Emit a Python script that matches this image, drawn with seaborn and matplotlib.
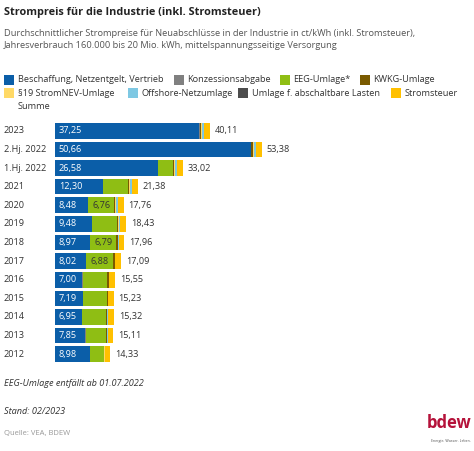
import numpy as np
import pandas as pd
import matplotlib
matplotlib.use("Agg")
import matplotlib.pyplot as plt
import seaborn as sns
from matplotlib.patches import Rectangle

# ------------------------
# Data (ct/kWh)
# ------------------------
categories = ["2023", "2.Hj. 2022", "1.Hj. 2022", "2021", "2020", "2019", "2018",
              "2017", "2016", "2015", "2014", "2013", "2012"]

beschaffung = [37.25, 50.66, 26.58, 12.30, 8.48, 9.48, 8.97, 8.02, 7.00, 7.19, 6.95, 7.85, 8.98]
konzession = [0.11] * 13
eeg = [0.0, 0.0, 3.723, 6.50, 6.76, 6.405, 6.79, 6.88, 6.354, 6.17, 6.24, 5.277, 3.592]
kwkg = [0.357, 0.378, 0.378, 0.254, 0.226, 0.28, 0.345, 0.438, 0.445, 0.20, 0.178, 0.126, 0.002]
stromnev = [0.27, 0.29, 0.29, 0.30, 0.25, 0.22, 0.17, 0.10, 0.07, 0.017, 0.05, 0.06, 0.109]
offshore = [0.591, 0.405, 0.40, 0.37, 0.394, 0.393, 0.025, 0.0, 0.034, 0.0, 0.246, 0.15, 0.0]
abschalt = [0.0, 0.0, 0.002, 0.009, 0.007, 0.005, 0.011, 0.005, 0.0, 0.006, 0.009, 0.0, 0.0]
stromsteuer = [1.537] * 13
summe = [40.11, 53.38, 33.02, 21.38, 17.76, 18.43, 17.96, 17.09, 15.55, 15.23, 15.32, 15.11, 14.33]

names = ["Beschaffung, Netzentgelt, Vertrieb", "Konzessionsabgabe", "EEG-Umlage*",
         "KWKG-Umlage", "§19 StromNEV-Umlage", "Offshore-Netzumlage",
         "Umlage f. abschaltbare Lasten", "Stromsteuer"]
series = [beschaffung, konzession, eeg, kwkg, stromnev, offshore, abschalt, stromsteuer]
colors = ["#0b5ea8", "#808080", "#8fbe14", "#7a5a00", "#ffd966", "#7ec8e3", "#4d4d4d", "#ffc000"]

df = pd.DataFrame(dict(zip(names, series)), index=categories)
cum = df.cumsum(axis=1)

# ------------------------
# Figure
# ------------------------
sns.set_theme(style="white")
plt.rcParams["font.family"] = ["Open Sans", "DejaVu Sans"]

W, H = 474, 451
fig = plt.figure(figsize=(W / 100, H / 100), dpi=100)
fig.patch.set_facecolor("white")

def fx(px):
    return px / W

def fy(py):
    return 1 - py / H

# axes: bars start at x=55 px, rows from y=121 to y=363 px
ax_left, ax_right = 55, 470
ax_top, ax_bottom = 121.5, 363.5
ax = fig.add_axes([fx(ax_left), fy(ax_bottom), fx(ax_right - ax_left), (ax_bottom - ax_top) / H])

# stacked bars: draw cumulative sums from the last to the first component
for name, col in reversed(list(zip(names, colors))):
    sns.barplot(x=cum[name].values, y=categories, color=col, orient="h",
                width=0.84, saturation=1, linewidth=0, errorbar=None, ax=ax)

px_per_unit = 3.87
ax.set_xlim(0, (ax_right - ax_left) / px_per_unit)
ax.set_ylim(len(categories) - 0.5, -0.5)
ax.axis("off")

txt = "#333333"
fs = 6.6
for i, cat in enumerate(categories):
    ax.text(-51 / px_per_unit, i, cat, ha="left", va="center", fontsize=fs, color=txt)
    ax.text(1.0, i, f"{beschaffung[i]:.2f}".replace(".", ","), ha="left", va="center",
            fontsize=fs, color="white")
    if eeg[i] >= 6.7:
        ax.text(beschaffung[i] + konzession[i] + 1.0, i, f"{eeg[i]:.2f}".replace(".", ","),
                ha="left", va="center", fontsize=fs, color="#333333")
    ax.text(summe[i] + 1.2, i, f"{summe[i]:.2f}".replace(".", ","), ha="left", va="center",
            fontsize=fs, color=txt)

# ------------------------
# Title / subtitle
# ------------------------
fig.text(fx(4), fy(12), "Strompreis für die Industrie (inkl. Stromsteuer)",
         fontsize=7.8, fontweight="bold", color="#222222", va="center")
fig.text(fx(4), fy(33), "Durchschnittlicher Strompreise für Neuabschlüsse in der Industrie in ct/kWh (inkl. Stromsteuer),",
         fontsize=6.65, color="#555555", va="center")
fig.text(fx(4), fy(46), "Jahresverbrauch 160.000 bis 20 Mio. kWh, mittelspannungsseitige Versorgung",
         fontsize=6.65, color="#555555", va="center")

# ------------------------
# Legend (flow layout)
# ------------------------
legend_pos = [(4, 80), (174, 80), (280, 80), (360, 80),
              (4, 93), (128, 93), (238, 93), (391, 93)]
sq = 10
for (lx, ly), name, col in zip(legend_pos, names, colors):
    fig.patches.append(Rectangle((fx(lx), fy(ly + sq / 2)), sq / W, sq / H,
                                 transform=fig.transFigure, facecolor=col, edgecolor="none"))
    fig.text(fx(lx + 13.5), fy(ly), name, fontsize=fs, color="#333333", va="center")
fig.text(fx(17.5), fy(106), "Summe", fontsize=fs, color="#333333", va="center")

# ------------------------
# Footer
# ------------------------
fig.text(fx(4), fy(384), "EEG-Umlage entfällt ab 01.07.2022", fontsize=fs,
         style="italic", color="#333333", va="center")
fig.text(fx(4), fy(411), "Stand: 02/2023", fontsize=fs, style="italic",
         color="#333333", va="center")
fig.text(fx(4), fy(434), "Quelle: VEA, BDEW", fontsize=5.5, color="#999999", va="center")
fig.text(fx(471), fy(423), "bdew", fontsize=12, fontweight="bold", color="#b5123a",
         ha="right", va="center")
fig.text(fx(471), fy(441), "Energie. Wasser. Leben.", fontsize=2.6, color="#555555",
         ha="right", va="center")

fig.savefig("out.png", dpi=100, facecolor="white")
